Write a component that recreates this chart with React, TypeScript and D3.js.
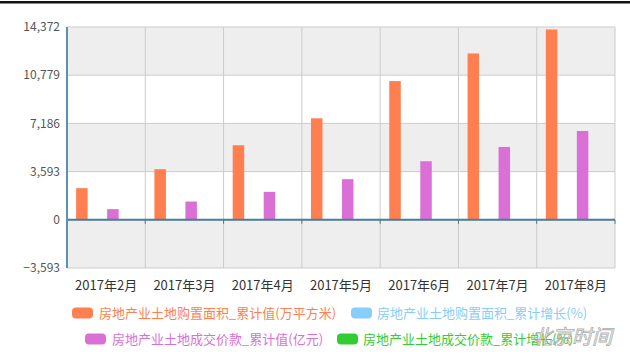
import React from "react";
import * as d3 from "d3";

const categories = ["2017年2月", "2017年3月", "2017年4月", "2017年5月", "2017年6月", "2017年7月", "2017年8月"];
const seriesNames = [
  "房地产业土地购置面积_累计值(万平方米)",
  "房地产业土地购置面积_累计增长(%)",
  "房地产业土地成交价款_累计值(亿元)",
  "房地产业土地成交价款_累计增长(%)",
];
const seriesColors = ["#ff7f50", "#87cefa", "#da70d6", "#32cd32"];
const areaValues = [2358, 3771, 5557, 7566, 10340, 12401, 14187];
const growthAreaValues: number[] = [];
const priceValues = [796, 1361, 2083, 3027, 4366, 5430, 6621];
const growthPriceValues: number[] = [];
const seriesValues = [areaValues, growthAreaValues, priceValues, growthPriceValues];
const yTicks = [-3593, 0, 3593, 7186, 10779, 14372];

const W = 630;
const H = 355;
const left = 67;
const right = 615;
const top = 27;
const bottom = 268;
const FONT = '"Microsoft YaHei", "Noto Sans CJK SC", "Noto Sans", sans-serif';

export default function App() {
  const y = d3.scaleLinear().domain([-3593, 14372]).range([bottom, top]);
  const x = d3.scaleBand<string>().domain(categories).range([left, right]).padding(0);
  const inner = d3
    .scaleBand<number>()
    .domain([0, 1, 2, 3])
    .range([0, x.bandwidth()])
    .paddingInner(0.258)
    .paddingOuter(0.654)
    .align(0.45);
  const fmt = d3.format(",");

  const bands = [];
  for (let i = 0; i < yTicks.length - 1; i++) {
    const y0 = y(yTicks[i + 1]);
    const y1 = y(yTicks[i]);
    bands.push(
      <rect key={"b" + i} x={left} y={y0} width={right - left} height={y1 - y0} fill={i % 2 === 0 ? "#eeeeee" : "#ffffff"} />
    );
  }

  const legendItems = [
    { i: 0, sx: 72, sy: 313, tx: 99 },
    { i: 1, sx: 351, sy: 313, tx: 377 },
    { i: 2, sx: 85, sy: 339, tx: 112 },
    { i: 3, sx: 337, sy: 339, tx: 363 },
  ];

  return (
    <svg width={W} height={H} style={{ position: "absolute", left: 0, top: 0, background: "#fff" }} fontFamily={FONT}>
      <rect x={0} y={0} width={W} height={H} fill="#fff" />
      <rect x={0} y={1} width={W} height={2.5} fill="#111" />
      {bands}
      {yTicks.map((t) => (
        <line key={"g" + t} x1={left} x2={right} y1={y(t)} y2={y(t)} stroke="#cccccc" strokeWidth={1} />
      ))}
      {categories.map((c) => (
        <line key={"v" + c} x1={(x(c) as number) + x.bandwidth()} x2={(x(c) as number) + x.bandwidth()} y1={top} y2={bottom} stroke="#cccccc" strokeWidth={1} />
      ))}
      {seriesValues.map((vals, si) =>
        vals.map((v, ci) => {
          const cx = (x(categories[ci]) as number) + (inner(si) as number);
          const y0 = y(Math.max(0, v));
          const y1 = y(Math.min(0, v));
          return <rect key={`r${si}-${ci}`} x={cx} y={y0} width={inner.bandwidth()} height={y1 - y0} fill={seriesColors[si]} />;
        })
      )}
      <line x1={left} x2={right} y1={y(0)} y2={y(0)} stroke="#4d7c96" strokeWidth={2} />
      {categories.map((c) => (
        <line key={"t" + c} x1={(x(c) as number) + x.bandwidth()} x2={(x(c) as number) + x.bandwidth()} y1={y(0)} y2={y(0) + 4} stroke="#4d7c96" strokeWidth={1} />
      ))}
      <line x1={left} x2={left} y1={top} y2={bottom} stroke="#5a93b0" strokeWidth={2} />
      {yTicks.map((t) => (
        <text key={"yl" + t} x={60} y={y(t)} dy="0.35em" textAnchor="end" fontSize={12} fill="#555">
          {fmt(t)}
        </text>
      ))}
      {categories.map((c) => (
        <text key={"xl" + c} x={(x(c) as number) + x.bandwidth() / 2} y={285} dy="0.35em" textAnchor="middle" fontSize={13} fill="#333">
          {c}
        </text>
      ))}
      {legendItems.map((l) => (
        <g key={"lg" + l.i}>
          <rect x={l.sx} y={l.sy - 5.5} width={21} height={11} rx={4} fill={seriesColors[l.i]} />
          <text x={l.tx} y={l.sy} dy="0.35em" fontSize={13} fill={seriesColors[l.i]}>
            {seriesNames[l.i]}
          </text>
        </g>
      ))}
      <text x={532} y={344} fontSize={20} fontStyle="italic" fill="#ffffff" stroke="#9a9a9a" strokeWidth={0.8} opacity={0.8}>
        北京时间
      </text>
    </svg>
  );
}
